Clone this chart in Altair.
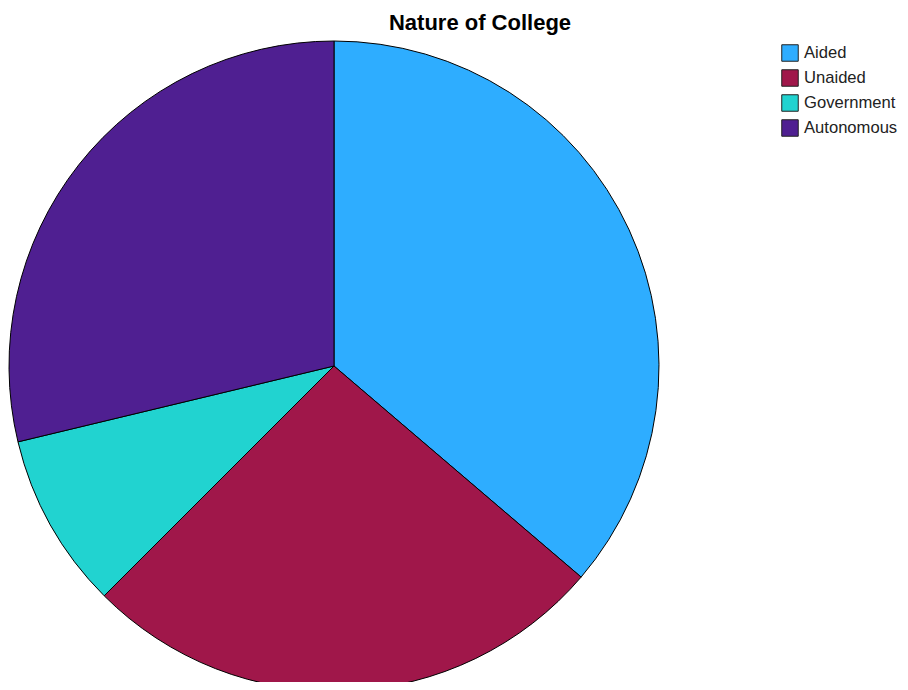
import altair as alt
import pandas as pd

categories = ["Aided", "Unaided", "Government", "Autonomous"]
counts = [29, 21, 7, 23]
colors = ["#2EADFF", "#A0174A", "#21D3D0", "#4F1F91"]

df = pd.DataFrame({"category": categories, "count": counts, "order": list(range(len(categories)))})

chart = alt.Chart(df).mark_arc(radius=325, stroke="black", strokeWidth=1).encode(
    theta=alt.Theta("count:Q", stack=True),
    order=alt.Order("order:Q"),
    color=alt.Color(
        "category:N",
        scale=alt.Scale(domain=categories, range=colors),
        sort=categories,
        legend=alt.Legend(
            title=None,
            orient="none",
            legendX=773,
            legendY=6,
            symbolType="square",
            symbolSize=272,
            symbolStrokeColor="#222222",
            symbolStrokeWidth=1,
            symbolOpacity=1,
            labelFont="Liberation Sans",
            labelFontSize=16.6,
            labelColor="#222222",
            rowPadding=3,
            symbolOffset=0,
            labelOffset=5,
            labelLimit=200,
        ),
    ),
    x=alt.value(326),
    y=alt.value(328),
).properties(
    width=892,
    height=644,
    title=alt.TitleParams(
        "Nature of College",
        font="Liberation Sans",
        fontSize=22,
        fontWeight="bold",
        color="black",
        anchor="middle",
        dx=26,
        offset=3,
    ),
    padding={"left": 0, "top": 30, "right": 0, "bottom": 0},
    autosize=alt.AutoSizeParams(type="none"),
).configure_view(stroke=None)

chart.save("out.html", embed_options={"renderer": "svg", "actions": False})
